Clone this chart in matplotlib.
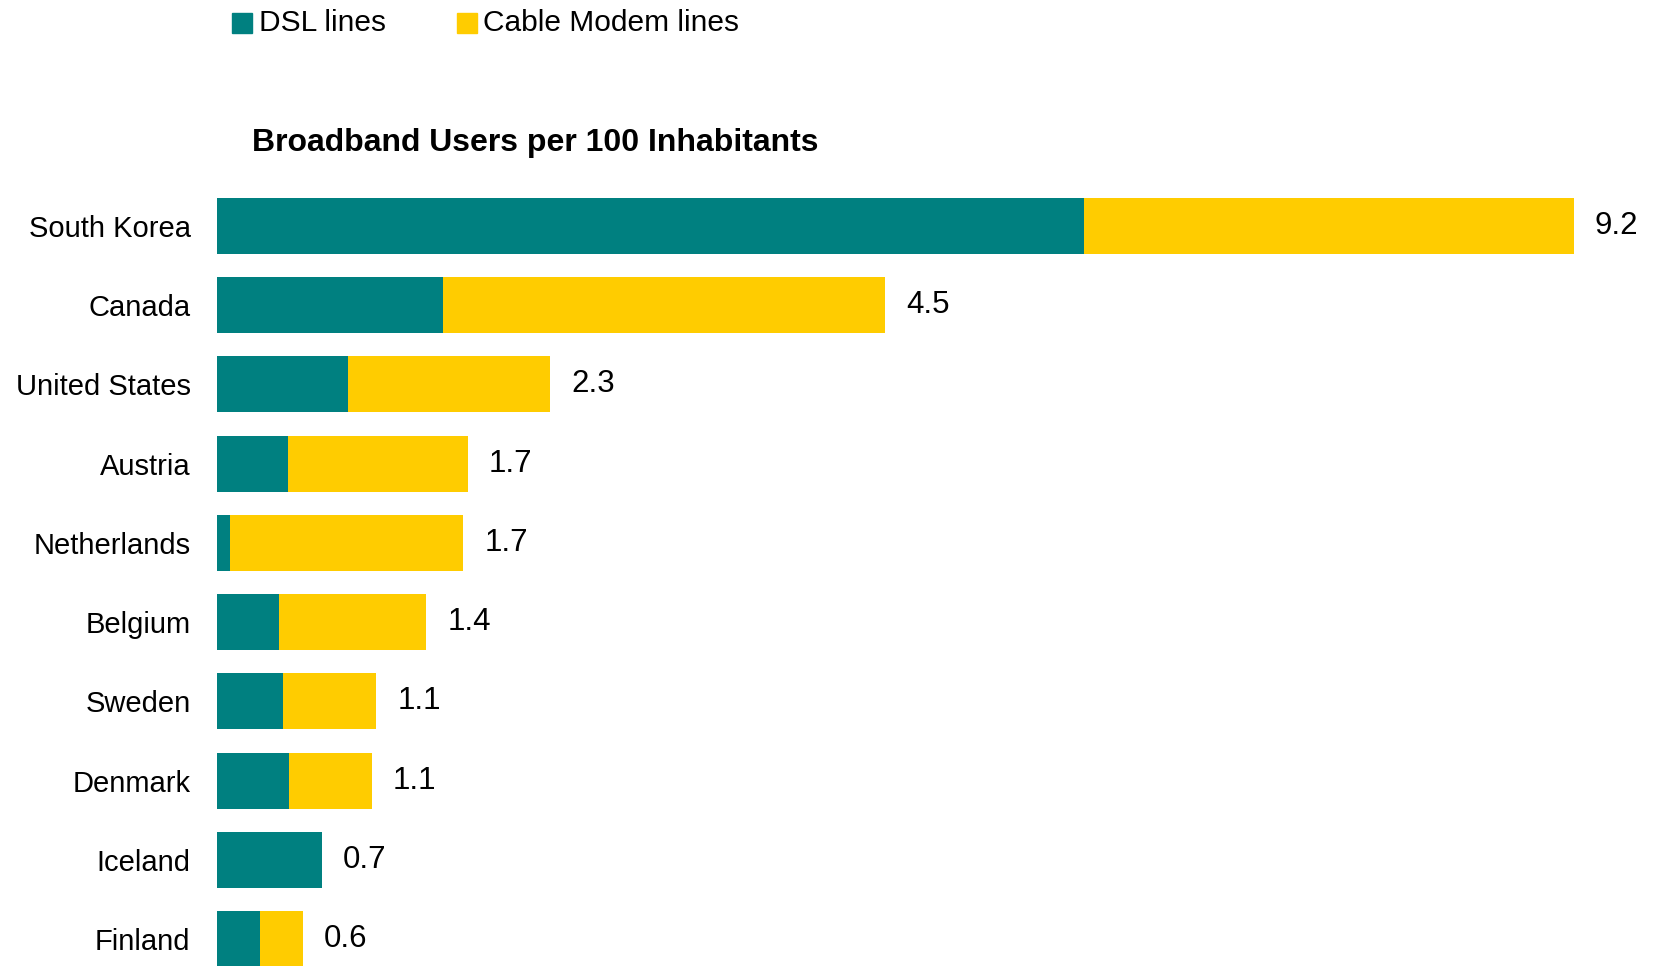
import matplotlib
matplotlib.use("Agg")
import matplotlib.pyplot as plt
from matplotlib.patches import Rectangle

plt.rcParams['font.family'] = ['Liberation Sans', 'DejaVu Sans']

countries = ["South Korea", "Canada", "United States", "Austria", "Netherlands",
             "Belgium", "Sweden", "Denmark", "Iceland", "Finland"]
dsl = [5.88, 1.53, 0.89, 0.48, 0.09, 0.42, 0.45, 0.49, 0.71, 0.29]
cable = [3.32, 3.00, 1.37, 1.22, 1.58, 1.00, 0.63, 0.56, 0.00, 0.29]

TEAL = "#008080"
GOLD = "#FFCC00"

W, H = 1656, 966
fig = plt.figure(figsize=(W / 100, H / 100), dpi=100)

left_px = 217
ax = fig.add_axes([left_px / W, 0, 1 - left_px / W, 1])

pos = list(range(len(countries)))
bar_h = 0.707
ax.barh(pos, dsl, height=bar_h, color=TEAL, label="DSL lines")
ax.barh(pos, cable, left=dsl, height=bar_h, color=GOLD, label="Cable Modem lines")

for y, d, c in zip(pos, dsl, cable):
    total = d + c
    ax.annotate(f"{total:.1f}", xy=(total, y), xytext=(15, 0),
                textcoords="offset points", va="center", ha="left",
                fontsize=22.5, color="black")

# pixel-to-data mapping: 147.5 px per unit, 79.2 px per row
ax.set_xlim(0, (W - left_px) / 147.5)
ax.set_ylim(9 + 27 / 79.2, -226 / 79.2)
ax.set_yticks(pos)
ax.set_yticklabels(countries, fontsize=21)
ax.tick_params(axis="y", length=0, pad=19)
ax.set_xticks([])
for s in ax.spines.values():
    s.set_visible(False)

fig.text(252 / W, 1 - 151 / H, "Broadband Users per 100 Inhabitants",
         fontsize=23, fontweight="bold", ha="left", va="baseline")

# legend row
def swatch(x, color, label, text_x):
    fig.patches.append(Rectangle((x / W, 1 - 33 / H), 20 / W, 20 / H,
                                 transform=fig.transFigure, color=color))
    fig.text(text_x / W, 1 - 31 / H, label, fontsize=21.5,
             ha="left", va="baseline")

swatch(232, TEAL, "DSL lines", 259)
swatch(457, GOLD, "Cable Modem lines", 483)

fig.savefig("out.png", dpi=100)
